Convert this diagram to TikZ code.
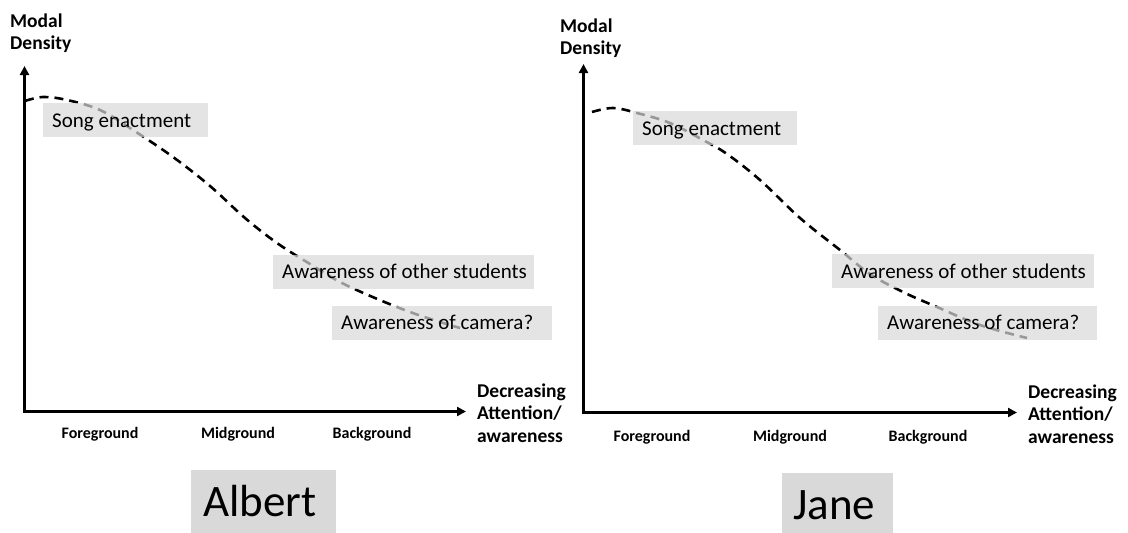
\documentclass[tikz,border=0pt]{standalone}
\usepackage{fontspec}
\setmainfont{Carlito}
\usetikzlibrary{arrows.meta}
\begin{document}
\begin{tikzpicture}[x=1pt,y=-1pt,
  axisline/.style={line width=3pt,line join=miter,
    {Triangle[length=9pt,width=9pt]}-{Triangle[length=9pt,width=9pt]}},
  densityline/.style={line width=2.6pt,dash pattern=on 9pt off 6pt},
  axlabel/.style={font=\fontsize{19.5}{22.5}\selectfont\bfseries,align=left,inner sep=0pt},
  zone/.style={font=\fontsize{16}{18}\selectfont\bfseries,inner sep=0pt},
  lbl/.style={fill=black!15,fill opacity=0.7,text opacity=1,anchor=west,
    font=\fontsize{21}{24}\selectfont,inner xsep=9pt,inner ysep=0pt,
    text height=16pt,text depth=2pt,minimum height=34pt},
  namebox/.style={fill=black!15,font=\fontsize{45}{48}\selectfont,anchor=north west,
    inner ysep=0pt,text height=29pt,text depth=0pt,minimum height=63pt}]
\useasboundingbox (0,0) rectangle (1128,533);

% ---------- Albert ----------
\coordinate (oL) at (24.5,411.5);
\coordinate (yL) at (24.5,66);
\coordinate (xL) at (466,411.5);
\draw[densityline] plot[smooth,tension=0.6] coordinates {(25,101) (43,97) (67,100) (100,110)
  (133,130) (173,157) (210,186) (245,218) (277,243) (310,264) (340,282) (375,298)
  (410,312) (440,322) (460,328)};
\draw[axisline] (yL) -- (oL) -- (xL);
\node[axlabel,anchor=west] (mdL) at (10,33) {Modal\\Density};
\node[axlabel,anchor=west] (daL) at (477,413) {Decreasing\\Attention/\\awareness};
\node[zone] (fgL) at (100,434) {Foreground};
\node[zone] (mgL) at (238,434) {Midground};
\node[zone] (bgL) at (372,434) {Background};
\node[lbl] (seL) at (43,120) {\makebox[147pt][l]{Song enactment}};
\node[lbl] (osL) at (273,271.5) {\makebox[243pt][l]{Awareness of other students}};
\node[lbl] (caL) at (332,322.5) {\makebox[202pt][l]{Awareness of camera?}};
\node[namebox,inner xsep=12pt] (alb) at (191,470) {\makebox[121pt][l]{Albert}};

% ---------- Jane ----------
\coordinate (oR) at (583.5,412.5);
\coordinate (yR) at (583.5,64);
\coordinate (xR) at (1017,412.5);
\draw[densityline] plot[smooth,tension=0.6] coordinates {(592,112) (613,108) (637,113)
  (670,123) (703,140) (727,154) (760,180) (800,218) (840,250) (870,274) (903,292)
  (937,307) (980,325) (1027,338)};
\draw[axisline] (yR) -- (oR) -- (xR);
\node[axlabel,anchor=west] (mdR) at (560,38) {Modal\\Density};
\node[axlabel,anchor=west] (daR) at (1028,414) {Decreasing\\Attention/\\awareness};
\node[zone] (fgR) at (652,437) {Foreground};
\node[zone] (mgR) at (790,437) {Midground};
\node[zone] (bgR) at (928,437) {Background};
\node[lbl] (seR) at (633,128) {\makebox[146pt][l]{Song enactment}};
\node[lbl] (osR) at (832,271) {\makebox[244pt][l]{Awareness of other students}};
\node[lbl] (caR) at (878,322.5) {\makebox[201pt][l]{Awareness of camera?}};
\node[namebox,inner xsep=11pt] (jan) at (782,473) {\makebox[89pt][l]{Jane}};
\end{tikzpicture}
\end{document}
